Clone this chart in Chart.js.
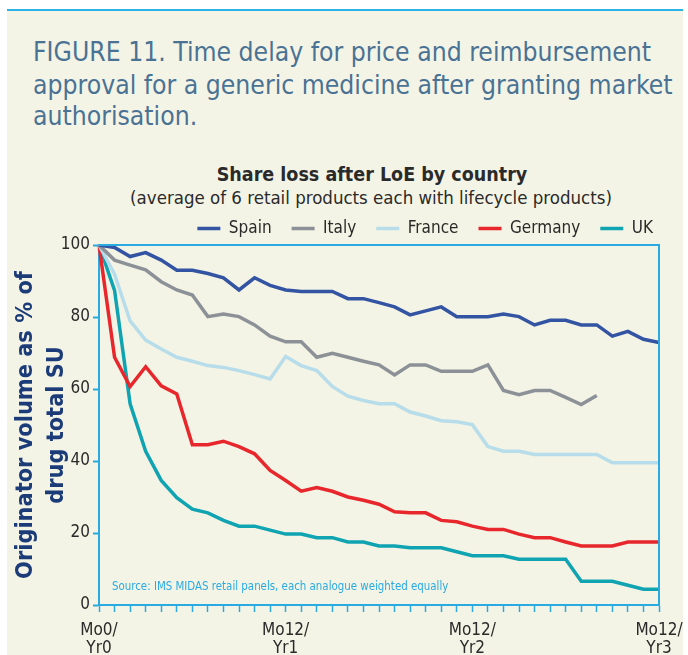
<!DOCTYPE html>
<html>
<head>
<meta charset="utf-8">
<script src="https://cdn.jsdelivr.net/npm/chart.js@4.4.1/dist/chart.umd.min.js"></script>
<style>
html,body{margin:0;padding:0;background:#ffffff;width:688px;height:655px;overflow:hidden;}
#panel{position:absolute;left:7px;top:9px;width:676px;height:646px;background:#f4f4e6;border-top:2px solid #2bb3e5;}
.cap{position:absolute;left:33px;font-family:"DejaVu Sans Condensed","Liberation Sans Narrow",sans-serif;font-size:26.3px;color:#4a7294;white-space:nowrap;}
#ctitle{position:absolute;left:0;width:744px;top:163px;text-align:center;font-family:"DejaVu Sans Condensed","Liberation Sans Narrow",sans-serif;font-weight:bold;font-size:19.5px;color:#2a2a2a;white-space:nowrap;}
#csub{position:absolute;left:0;width:742px;top:187px;text-align:center;font-family:"DejaVu Sans Condensed","Liberation Sans Narrow",sans-serif;font-size:18.5px;color:#2a2a2a;white-space:nowrap;}
#src{position:absolute;left:112px;top:579px;font-family:"DejaVu Sans Condensed","Liberation Sans Narrow",sans-serif;font-size:11.4px;color:#29abe2;white-space:nowrap;}
#wrap{position:absolute;left:0;top:0;width:688px;height:655px;}
</style>
</head>
<body>
<div id="panel"></div>
<div class="cap" style="top:37px">FIGURE 11. Time delay for price and reimbursement</div>
<div class="cap" style="top:70px">approval for a generic medicine after granting market</div>
<div class="cap" style="top:101px">authorisation.</div>
<div id="ctitle">Share loss after LoE by country</div>
<div id="csub">(average of 6 retail products each with lifecycle products)</div>
<div id="wrap"><canvas id="c" width="688" height="655"></canvas></div>
<div id="src">Source: IMS MIDAS retail panels, each analogue weighted equally</div>
<script>
// Months after loss of exclusivity (categories)
const months = [0,1,2,3,4,5,6,7,8,9,10,11,12,13,14,15,16,17,18,19,20,21,22,23,24,25,26,27,28,29,30,31,32,33,34,35,36];
// x tick labels (month index -> label lines)
const xTickMonths = [0, 12, 24, 36];
const xTickText = [['Mo0/','Yr0'], ['Mo12/','Yr1'], ['Mo12/','Yr2'], ['Mo12/','Yr3']];
const yTicks = [0, 20, 40, 60, 80, 100];

const seriesNames = ['Spain', 'Italy', 'France', 'Germany', 'UK'];
const spain = [100,99.3,96.8,97.9,95.8,93.0,93.0,92.1,90.9,87.5,90.9,88.8,87.5,87.1,87.1,87.1,85.1,85.1,84.0,82.8,80.6,81.7,82.8,80.1,80.1,80.1,80.8,80.1,77.8,79.1,79.1,77.8,77.8,74.7,76.0,73.8,72.9];
const italy = [100,95.8,94.4,93.1,89.8,87.5,86.1,80.1,80.8,80.1,77.8,74.7,73.1,73.1,68.8,69.9,68.8,67.7,66.7,63.9,66.7,66.7,64.9,64.9,64.9,66.7,59.6,58.4,59.6,59.6,57.7,55.7,58.2,null,null,null,null];
const france = [100,91.9,78.9,73.6,71.1,68.8,67.7,66.5,66.0,65.1,64.0,62.8,69.0,66.5,65.1,60.7,58.0,56.8,55.9,55.9,53.6,52.5,51.2,50.9,50.1,44.0,42.7,42.7,41.8,41.8,41.8,41.8,41.8,39.5,39.5,39.5,39.5];
const germany = [100,68.8,60.7,66.2,60.9,58.6,44.5,44.5,45.5,44.0,42.0,37.4,34.6,31.6,32.6,31.6,30.0,29.1,28.0,25.9,25.6,25.6,23.5,23.1,21.9,21.0,21.0,19.7,18.7,18.7,17.5,16.4,16.4,16.4,17.5,17.5,17.5];
const uk = [100,87.4,55.9,42.7,34.6,29.8,26.6,25.6,23.5,21.9,21.9,20.8,19.7,19.7,18.7,18.7,17.5,17.5,16.4,16.4,15.9,15.9,15.9,14.8,13.7,13.7,13.7,12.7,12.7,12.7,12.7,6.6,6.6,6.6,5.5,4.4,4.4];
const seriesColors = ['#3353a3', '#8b9197', '#b7dcea', '#e8272d', '#10a3b2'];

const FONT = '"DejaVu Sans Condensed","Liberation Sans Narrow",sans-serif';
const AXIS = '#29abe2';

const allSeries = [spain, italy, france, germany, uk];
const datasets = allSeries.map((d, i) => ({
  label: seriesNames[i],
  data: d,
  borderColor: seriesColors[i],
  backgroundColor: seriesColors[i],
  borderWidth: 3.5,
  pointRadius: 0,
  tension: 0,
  fill: false,
  spanGaps: false
}));

const framePlugin = {
  id: 'frame',
  afterLayout(chart) {
    // nudge legend block (right and slightly down) like the original
    const lg = chart.legend;
    if (lg) { lg.left += 14; lg.right += 14; lg.top += 2; lg.bottom += 2; }
  },
  afterDatasetsDraw(chart) {
    const {ctx, chartArea: a} = chart;
    ctx.save();
    ctx.strokeStyle = AXIS;
    ctx.lineWidth = 2;
    ctx.beginPath();
    ctx.moveTo(a.left, a.top);
    ctx.lineTo(a.right, a.top);
    ctx.lineTo(a.right, a.bottom);
    ctx.stroke();
    ctx.restore();
  }
};

new Chart(document.getElementById('c'), {
  type: 'line',
  data: { labels: months, datasets },
  plugins: [framePlugin],
  options: {
    responsive: false,
    animation: false,
    layout: { padding: { left: 0, right: 29, top: 198, bottom: 0 } },
    plugins: {
      tooltip: { enabled: false },
      title: { display: false },
      legend: {
        display: true,
        position: 'top',
        align: 'end',
        labels: {
          usePointStyle: true,
          pointStyle: 'line',
          pointStyleWidth: 23,
          padding: 20,
          color: '#2a2a2a',
          font: { family: FONT, size: 17 }
        }
      }
    },
    scales: {
      x: {
        type: 'category',
        offset: false,
        border: { display: true, color: AXIS, width: 2 },
        grid: { display: true, drawOnChartArea: false, drawTicks: true, tickLength: 7, tickColor: AXIS, tickWidth: 1.5 },
        ticks: {
          autoSkip: false,
          maxRotation: 0,
          minRotation: 0,
          padding: 9,
          color: '#2a2a2a',
          font: { family: FONT, size: 17, lineHeight: 1.1 },
          callback: (v, i) => {
            const k = xTickMonths.indexOf(months[i]);
            return k >= 0 ? xTickText[k] : '';
          }
        },
        afterFit: s => { s.height = 50; s.paddingLeft = 0; s.paddingRight = 0; }
      },
      y: {
        min: 0, max: 100,
        afterBuildTicks: s => { s.ticks = yTicks.map(v => ({ value: v })); },
        border: { display: true, color: AXIS, width: 2 },
        grid: { display: true, drawOnChartArea: false, drawTicks: true, tickLength: 6, tickColor: AXIS, tickWidth: 2 },
        ticks: { padding: 3, color: '#2a2a2a', font: { family: FONT, size: 17 } },
        title: {
          display: true,
          text: ['Originator volume as % of', 'drug total SU'],
          color: '#1b3c78',
          font: { family: FONT, size: 23.3, weight: 'bold', lineHeight: 1.32 },
          padding: { top: 11, bottom: 0 }
        },
        afterFit: s => { s.width = 99; }
      }
    }
  }
});
</script>
</body>
</html>
